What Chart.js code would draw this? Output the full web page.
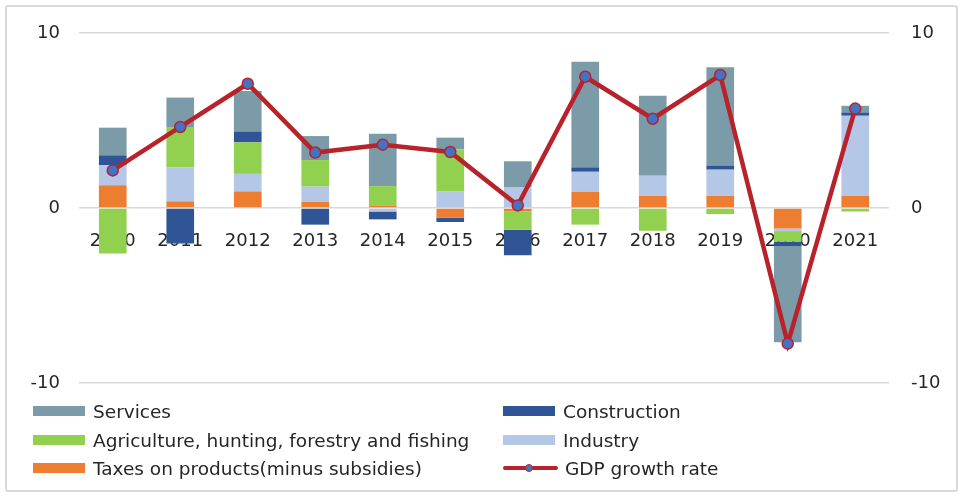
<!DOCTYPE html>
<html>
<head>
<meta charset="utf-8">
<script src="https://cdn.jsdelivr.net/npm/chart.js@4.4.1/dist/chart.umd.min.js"></script>
<style>
  html, body { margin: 0; padding: 0; background: #fff; }
  #wrap { position: relative; width: 961px; height: 496px; font-family: "DejaVu Sans", sans-serif; }
  #frame { position: absolute; left: 5px; top: 5px; width: 949px; height: 483px;
    border: 2px solid #d9d9d9; border-radius: 3px; pointer-events: none; }
  .item { position: absolute; height: 22px; display: flex; align-items: center;
    font-size: 18.5px; color: #262626; white-space: nowrap; }
  .swatch { width: 52px; height: 10px; margin-right: 8px; }
  .lineSwatch { position: relative; width: 55px; height: 10px; margin-right: 7px; }
  .lineSwatch .bar { position: absolute; left: 0; top: 3px; width: 55px; height: 4px; border-radius: 2px; }
  .lineSwatch .dot { position: absolute; left: 22px; top: 1px; width: 6px; height: 6px;
    border-radius: 50%; border: 1px solid; }
</style>
</head>
<body>
<div id="wrap">
  <canvas id="gdpChart" width="961" height="496"></canvas>
  <div id="legend"></div>
  <div id="frame"></div>
</div>
<script>
const years = ["2010", "2011", "2012", "2013", "2014", "2015", "2016", "2017", "2018", "2019", "2020", "2021"];
const yTicks = [-10, 0, 10];

// contributions to growth, percentage points
const taxes = [1.3, 0.38, 0.95, 0.35, 0.15, -0.55, -0.2, 0.93, 0.7, 0.7, -1.17, 0.7];
const industry = [1.14, 1.93, 1.0, 0.87, -0.2, 0.95, 1.2, 1.14, 1.14, 1.49, -0.15, 4.57];
const agriculture = [-2.6, 2.32, 1.8, 1.52, 1.1, 2.4, -1.05, -0.95, -1.3, -0.35, -0.6, -0.2];
const construction = [0.57, -2.03, 0.6, -0.95, -0.45, -0.25, -1.45, 0.25, 0, 0.23, -0.25, 0.19];
const services = [1.58, 1.68, 2.34, 1.37, 3.0, 0.67, 1.47, 6.04, 4.57, 5.62, -5.5, 0.38];
const gdpGrowth = [2.15, 4.63, 7.1, 3.17, 3.62, 3.2, 0.15, 7.5, 5.1, 7.6, -7.75, 5.68];

const seriesNames = {
  taxes: "Taxes on products(minus subsidies)",
  industry: "Industry",
  agriculture: "Agriculture, hunting, forestry and fishing",
  construction: "Construction",
  services: "Services",
  gdp: "GDP growth rate",
};
const colours = {
  taxes: "#ed7d31",
  industry: "#b4c7e7",
  agriculture: "#92d050",
  construction: "#2f5597",
  services: "#7b9ba9",
  gdp: "#b8232b",
  point: "#4472c4",
};

const fontFamily = "'DejaVu Sans', sans-serif";

function barSet(key, values) {
  return {
    type: "bar",
    label: seriesNames[key],
    data: values,
    backgroundColor: colours[key],
    stack: "gva",
    yAxisID: "y",
    order: 1,
    categoryPercentage: 1,
    barPercentage: 0.41,
  };
}

new Chart(document.getElementById("gdpChart").getContext("2d"), {
  data: {
    labels: years,
    datasets: [
      barSet("taxes", taxes),
      barSet("industry", industry),
      barSet("agriculture", agriculture),
      barSet("construction", construction),
      barSet("services", services),
      {
        type: "line",
        label: seriesNames.gdp,
        data: gdpGrowth,
        yAxisID: "y2",
        order: 0,
        borderColor: colours.gdp,
        borderWidth: 4.5,
        pointRadius: 5.5,
        pointBackgroundColor: colours.point,
        pointBorderColor: colours.gdp,
        pointBorderWidth: 1.5,
        tension: 0,
      },
    ],
  },
  options: {
    responsive: false,
    animation: false,
    events: [],
    layout: { padding: { top: 33, bottom: 113, left: 0, right: 0 } },
    plugins: { legend: { display: false }, tooltip: { enabled: false } },
    scales: {
      x: {
        position: { y: 0 },
        stacked: true,
        z: 1,
        grid: { display: false, drawTicks: false },
        border: { display: false },
        ticks: { color: "#262626", font: { family: fontFamily, size: 18 }, padding: 23 },
      },
      y: {
        position: "left",
        stacked: true,
        min: -10,
        max: 10,
        afterBuildTicks: (scale) => { scale.ticks = yTicks.map((v) => ({ value: v })); },
        afterFit: (scale) => { scale.width = 79; },
        grid: { color: "#d9d9d9", lineWidth: 1.5, drawTicks: false },
        border: { display: false },
        ticks: { color: "#262626", font: { family: fontFamily, size: 18 }, padding: 19 },
      },
      y2: {
        position: "right",
        min: -10,
        max: 10,
        afterBuildTicks: (scale) => { scale.ticks = yTicks.map((v) => ({ value: v })); },
        afterFit: (scale) => { scale.width = 72; },
        grid: { display: false, drawTicks: false },
        border: { display: false },
        ticks: { color: "#262626", font: { family: fontFamily, size: 18 }, padding: 22 },
      },
    },
  },
});

// legend, two columns like the original
const legendItems = [
  { key: "services", left: 33, top: 400 },
  { key: "construction", left: 503, top: 400 },
  { key: "agriculture", left: 33, top: 429 },
  { key: "industry", left: 503, top: 429 },
  { key: "taxes", left: 33, top: 457 },
  { key: "gdp", left: 503, top: 457 },
];
const legend = document.getElementById("legend");
legendItems.forEach((item) => {
  const div = document.createElement("div");
  div.className = "item";
  div.style.left = item.left + "px";
  div.style.top = item.top + "px";
  if (item.key === "gdp") {
    div.innerHTML =
      '<span class="lineSwatch"><span class="bar" style="background:' + colours.gdp +
      '"></span><span class="dot" style="background:' + colours.point + ";border-color:" +
      colours.gdp + '"></span></span>';
  } else {
    div.innerHTML = '<span class="swatch" style="background:' + colours[item.key] + '"></span>';
  }
  const text = document.createElement("span");
  text.textContent = seriesNames[item.key];
  div.appendChild(text);
  legend.appendChild(div);
});
</script>
</body>
</html>
